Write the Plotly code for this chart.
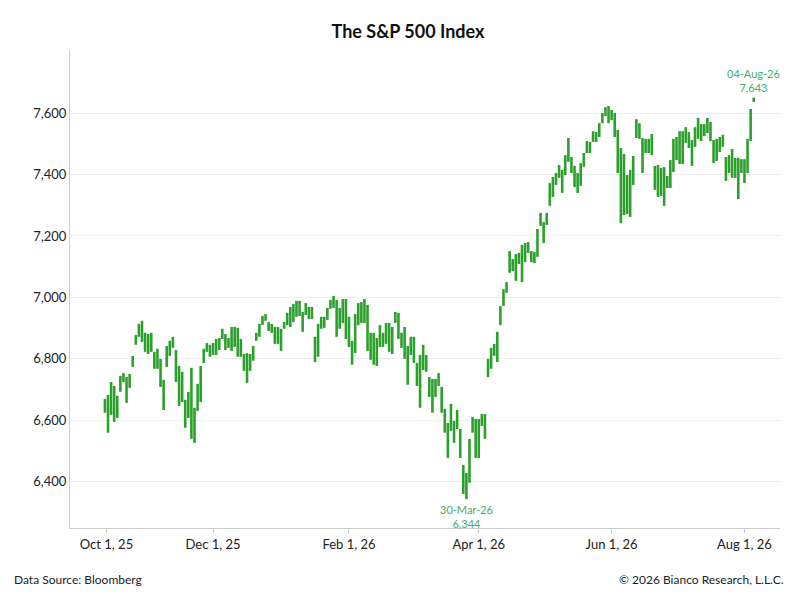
import plotly.graph_objects as go

# daily high / low of the index (one entry per trading day)
high = [6670, 6683, 6725, 6712, 6680, 6745, 6754, 6741, 6751, 6810, 6878, 6914, 6924, 6885, 6881,
        6885, 6823, 6833, 6800, 6732, 6842, 6859, 6872, 6829, 6777, 6758, 6667, 6693, 6771, 6641,
        6719, 6777, 6833, 6852, 6846, 6852, 6865, 6868, 6898, 6881, 6868, 6904, 6904, 6901, 6865,
        6816, 6819, 6816, 6842, 6885, 6914, 6940, 6946, 6920, 6914, 6904, 6904, 6898, 6920, 6950,
        6969, 6979,
        6989, 6989, 6953, 6982, 6969, 6969, 6872, 6914, 6937, 6937, 6966, 6992, 7005, 6992, 6966,
        6995, 6995, 6937, 6859, 6946, 6982, 6985, 6995, 6976, 6885, 6885, 6868, 6910, 6885, 6917,
        6917, 6904, 6953, 6950, 6885, 6904, 6842, 6872, 6872, 6787, 6813, 6846, 6813, 6741, 6735,
        6735, 6754, 6709, 6638, 6592, 6654, 6598, 6634, 6572, 6455, 6429, 6540, 6611, 6605, 6605,
        6621, 6621, 6800, 6836, 6849, 6888, 6972, 7027, 7050,
        7151, 7125, 7141, 7145, 7171, 7177, 7180, 7151, 7148, 7223, 7275, 7245, 7275, 7372, 7392,
        7405, 7431, 7415, 7463, 7519, 7457, 7428, 7405, 7437, 7470, 7509, 7506, 7541, 7538, 7567,
        7600, 7619, 7623, 7610, 7600, 7545, 7486, 7467, 7398, 7415, 7460, 7580, 7567, 7519, 7516,
        7516, 7532, 7428, 7431, 7421, 7424, 7395, 7447, 7516, 7522, 7541, 7541, 7554, 7538, 7512,
        7554, 7584, 7564, 7564, 7584, 7571, 7512, 7516, 7522, 7529, 7457, 7463, 7483, 7454, 7454,
        7450, 7450, 7516, 7613, 7650]
low = [6625, 6560, 6618, 6595, 6608, 6693, 6725, 6657, 6706, 6774, 6846, 6872, 6855, 6823, 6816,
       6823, 6768, 6768, 6709, 6634, 6774, 6810, 6836, 6725, 6647, 6660, 6576, 6608, 6540, 6527,
       6631, 6660, 6787, 6823, 6807, 6813, 6813, 6829, 6865, 6829, 6836, 6826, 6839, 6807, 6807,
       6761, 6722, 6761, 6794, 6859, 6872, 6910, 6924, 6891, 6885, 6849, 6849, 6826, 6898, 6910,
       6904, 6920,
       6937, 6940, 6888, 6943, 6930, 6930, 6790, 6807, 6898, 6901, 6927, 6963, 6966, 6872, 6898,
       6917, 6865, 6839, 6781, 6819, 6910, 6917, 6917, 6826, 6797, 6781, 6777, 6839, 6839, 6849,
       6823, 6816, 6917, 6865, 6836, 6800, 6716, 6813, 6787, 6712, 6641, 6764, 6758, 6676, 6625,
       6676, 6712, 6625, 6560, 6478, 6566, 6527, 6572, 6478, 6361, 6344, 6397, 6560, 6478, 6478,
       6582, 6540, 6741, 6768, 6810, 6790, 6910, 6972, 7015,
       7080, 7086, 7054, 7109, 7050, 7115, 7145, 7115, 7112, 7132, 7233, 7177, 7236, 7298, 7327,
       7366, 7389, 7340, 7398, 7441, 7405, 7359, 7340, 7363, 7425, 7470, 7470, 7506, 7506, 7522,
       7567, 7590, 7567, 7577, 7522, 7405, 7242, 7268, 7271, 7262, 7366, 7519, 7516, 7405, 7470,
       7470, 7463, 7350, 7327, 7330, 7298, 7356, 7356, 7408, 7447, 7434, 7434, 7503, 7486, 7428,
       7490, 7516, 7509, 7525, 7535, 7509, 7437, 7444, 7473, 7490, 7379, 7405, 7389, 7389, 7320,
       7405, 7372, 7405, 7509, 7636]
last_close = 7643
low_label = "30-Mar-26"
last_label = "04-Aug-26"

# tick positions as trading-day index
tick_idx = [0.5, 35, 79, 121, 164, 207]
tick_labels = ["Oct 1, 25", "Dec 1, 25", "Feb 1, 26", "Apr 1, 26", "Jun 1, 26", "Aug 1, 26"]

xs, ys = [], []
for i, (h, l) in enumerate(zip(high, low)):
    xs += [i, i, None]
    ys += [l, h, None]

green = "#2ca02c"
label_color = "#3fae6a"

fig = go.Figure()
fig.add_trace(go.Scatter(x=xs, y=ys, mode="lines", line=dict(color=green, width=2.6),
                         hoverinfo="skip", showlegend=False))

i_min = low.index(min(low))
i_last = len(high) - 1
fig.add_annotation(x=i_min, y=low[i_min], yanchor="top", yshift=-2, showarrow=False,
                   text=f"{low_label}<br>{low[i_min]:,}",
                   font=dict(size=11, color=label_color))
fig.add_annotation(x=i_last, y=high[i_last], yanchor="bottom", yshift=2, showarrow=False,
                   text=f"{last_label}<br>{last_close:,}",
                   font=dict(size=11, color=label_color))

fig.add_annotation(x=0, y=0, xref="paper", yref="paper", xanchor="left", yanchor="top",
                   xshift=-58, yshift=-42, showarrow=False, text="Data Source: Bloomberg",
                   font=dict(size=12, color="#222"))
fig.add_annotation(x=1, y=0, xref="paper", yref="paper", xanchor="right", yanchor="top",
                   xshift=6, yshift=-42, showarrow=False, text="© 2026 Bianco Research, L.L.C.",
                   font=dict(size=12, color="#222"))

fig.update_layout(
    width=800, height=600,
    margin=dict(l=62, r=28, t=42, b=80, autoexpand=False),
    plot_bgcolor="white", paper_bgcolor="white",
    font=dict(family="Lato", size=13, color="#222"),
    title=dict(text="<b>The S&P 500 Index</b>", x=0.5, y=0.96, xanchor="center", yanchor="middle",
               font=dict(size=18, color="#111")),
    xaxis=dict(tickvals=tick_idx, ticktext=tick_labels, range=[-11.3, 218.5], automargin=False,
               showgrid=False, showline=True, linecolor="#ccc", ticks="outside", ticklen=4,
               tickcolor="#ccc", zeroline=False),
    yaxis=dict(range=[6250, 7805], tickvals=[6400, 6600, 6800, 7000, 7200, 7400, 7600],
               automargin=False, tickformat=",", gridcolor="#eee", showline=True,
               linecolor="#ccc", zeroline=False),
)

fig.write_html("out.html")
